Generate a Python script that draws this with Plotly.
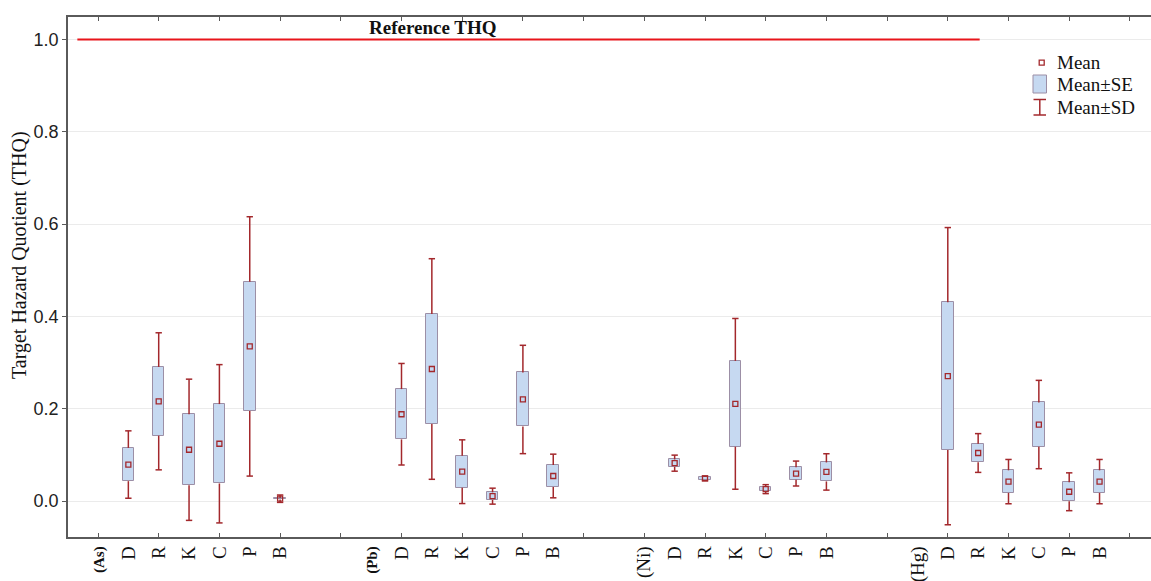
import plotly.graph_objects as go

# ---- data -------------------------------------------------------------
metals = ["(As)", "(Pb)", "(Ni)", "(Hg)"]
sources = ["D", "R", "K", "C", "P", "B"]

as_mean = [0.079, 0.216, 0.111, 0.124, 0.335, 0.005]
as_se = [0.036, 0.0745, 0.077, 0.086, 0.140, 0.0015]
as_sd = [0.073, 0.1485, 0.153, 0.1715, 0.281, 0.008]

pb_mean = [0.188, 0.286, 0.0635, 0.0105, 0.220, 0.0542]
pb_se = [0.0545, 0.119, 0.0347, 0.0083, 0.0585, 0.024]
pb_sd = [0.110, 0.239, 0.069, 0.0173, 0.1174, 0.0473]

ni_mean = [0.082, 0.049, 0.2105, 0.0257, 0.0595, 0.063]
ni_se = [0.008, 0.0035, 0.093, 0.0047, 0.0135, 0.0206]
ni_sd = [0.0174, 0.005, 0.185, 0.0097, 0.027, 0.0394]

hg_mean = [0.2705, 0.104, 0.042, 0.1657, 0.020, 0.042]
hg_se = [0.160, 0.020, 0.0245, 0.048, 0.0206, 0.0245]
hg_sd = [0.322, 0.042, 0.048, 0.0957, 0.041, 0.048]

ref_thq = 1.0
y_ticks = [0.0, 0.2, 0.4, 0.6, 0.8, 1.0]

# ---- layout constants ---------------------------------------------------
group_start = [0, 9, 18, 27]          # category slot of each metal label
box_w = 0.38                          # SE box width (category units)
cap_half = 0.105                      # half width of SD caps
ref_x = (-0.68, 29.05)                # extent of the reference line

WHISKER = "#a3282c"
BOX_FILL = "#c6d9f1"
BOX_LINE = "#9c8fa6"
REF_RED = "#e8151b"
AXIS = "#5a5a5a"
SERIF = "Liberation Serif, Times New Roman, serif"
SANS = "Liberation Sans, Arial, sans-serif"

W, H = 1151, 581
PL, PR, PT, PB = 68, 1151, 17, 537


def px_x(px):
    return (px - PL) / (PR - PL)


def px_y(py):
    return (PB - py) / (PB - PT)


# ---- assemble series ----------------------------------------------------
all_mean = [as_mean, pb_mean, ni_mean, hg_mean]
all_se = [as_se, pb_se, ni_se, hg_se]
all_sd = [as_sd, pb_sd, ni_sd, hg_sd]

xs, means, ses, sds = [], [], [], []
cat_vals, cat_text = [], []
for g, metal in enumerate(metals):
    s = group_start[g]
    cat_vals.append(s)
    if g < 2:
        cat_text.append("<b><span style='font-size:15px'>%s</span></b>" % metal)
    else:
        cat_text.append(metal)
    for k, src in enumerate(sources):
        xs.append(s + 1 + k)
        cat_vals.append(s + 1 + k)
        cat_text.append(src)
        means.append(all_mean[g][k])
        ses.append(all_se[g][k])
        sds.append(all_sd[g][k])

# whisker segments (outside the SE box) with caps
wx, wy = [], []
for x, m, se, sd in zip(xs, means, ses, sds):
    wx += [x, x, None, x, x, None]
    wy += [m + se, m + sd, None, m - se, m - sd, None]
    wx += [x - cap_half, x + cap_half, None, x - cap_half, x + cap_half, None]
    wy += [m + sd, m + sd, None, m - sd, m - sd, None]

fig = go.Figure()

fig.add_trace(go.Bar(
    x=xs,
    base=[m - se for m, se in zip(means, ses)],
    y=[2 * se for se in ses],
    width=box_w,
    marker=dict(color=BOX_FILL, line=dict(color=BOX_LINE, width=1)),
    showlegend=False,
    hoverinfo="skip",
))

fig.add_trace(go.Scatter(
    x=wx, y=wy, mode="lines",
    line=dict(color=WHISKER, width=1.5),
    showlegend=False, hoverinfo="skip",
))

fig.add_trace(go.Scatter(
    x=xs, y=means, mode="markers",
    marker=dict(symbol="square-open", size=5, color=WHISKER,
                line=dict(color=WHISKER, width=1.3)),
    showlegend=False,
))

fig.add_trace(go.Scatter(
    x=list(ref_x), y=[ref_thq, ref_thq], mode="lines",
    line=dict(color=REF_RED, width=2),
    showlegend=False, hoverinfo="skip",
))

annotations = [
    dict(x=11.04, y=1.025, xref="x", yref="y", text="<b>Reference THQ</b>",
         showarrow=False, font=dict(family=SERIF, size=19, color="#111111"),
         xanchor="center", yanchor="middle"),
    dict(x=px_x(19), y=px_y(255), xref="paper", yref="paper",
         text="Target Hazard Quotient (THQ)", textangle=-90, showarrow=False,
         font=dict(family=SERIF, size=20, color="#111111"),
         xanchor="center", yanchor="middle"),
]

# legend
legend_items = [("Mean", 62.7), ("Mean\u00b1SE", 84.0), ("Mean\u00b1SD", 107.0)]
for label, cy in legend_items:
    annotations.append(dict(
        x=px_x(1055), y=px_y(cy), xref="paper", yref="paper", text=label,
        showarrow=False, xanchor="left", yanchor="middle",
        font=dict(family=SERIF, size=19, color="#111111")))

shapes = [
    # mean marker
    dict(type="rect", xref="paper", yref="paper",
         x0=px_x(1039.2), x1=px_x(1044.2), y0=px_y(65.2), y1=px_y(60.2),
         line=dict(color=WHISKER, width=1.3), fillcolor="rgba(0,0,0,0)"),
    # SE box
    dict(type="rect", xref="paper", yref="paper",
         x0=px_x(1033), x1=px_x(1046.5), y0=px_y(93), y1=px_y(75),
         line=dict(color=BOX_LINE, width=1), fillcolor=BOX_FILL),
    # SD bar
    dict(type="line", xref="paper", yref="paper",
         x0=px_x(1039.8), x1=px_x(1039.8), y0=px_y(99.5), y1=px_y(115),
         line=dict(color=WHISKER, width=1.5)),
    dict(type="line", xref="paper", yref="paper",
         x0=px_x(1033.5), x1=px_x(1046), y0=px_y(99.5), y1=px_y(99.5),
         line=dict(color=WHISKER, width=1.5)),
    dict(type="line", xref="paper", yref="paper",
         x0=px_x(1033.5), x1=px_x(1046), y0=px_y(115), y1=px_y(115),
         line=dict(color=WHISKER, width=1.5)),
]

x_lo = (PL - 98) / 30.35
x_hi = (PR - 98) / 30.35
y_lo = -(PB - 501) / 461.5
y_hi = (501 - PT) / 461.5

fig.update_layout(
    width=W, height=H,
    margin=dict(l=PL, r=W - PR, t=PT, b=H - PB),
    paper_bgcolor="white", plot_bgcolor="white",
    showlegend=False,
    bargap=0,
    annotations=annotations,
    shapes=shapes,
    xaxis=dict(
        range=[x_lo, x_hi],
        tickmode="array", tickvals=cat_vals, ticktext=cat_text,
        tickangle=-90, ticks="", ticklen=0,
        tickfont=dict(family=SERIF, size=19, color="#111111"),
        showgrid=False, zeroline=False,
        showline=True, linecolor=AXIS, linewidth=1.5, mirror="ticks",
        minor=dict(tickmode="array", tickvals=list(range(0, 35, 2)),
                   ticks="inside", ticklen=4, tickcolor=AXIS, tickwidth=1,
                   showgrid=False),
    ),
    yaxis=dict(
        range=[y_lo, y_hi],
        tickmode="array", tickvals=y_ticks, tickformat=".1f",
        ticks="outside", ticklen=4, tickcolor=AXIS,
        tickfont=dict(family=SANS, size=18, color="#222222"),
        showgrid=True, gridcolor="#ebebeb", gridwidth=1,
        zeroline=False,
        showline=True, linecolor=AXIS, linewidth=1.5, mirror=False,
    ),
)

fig.write_html("out.html")
